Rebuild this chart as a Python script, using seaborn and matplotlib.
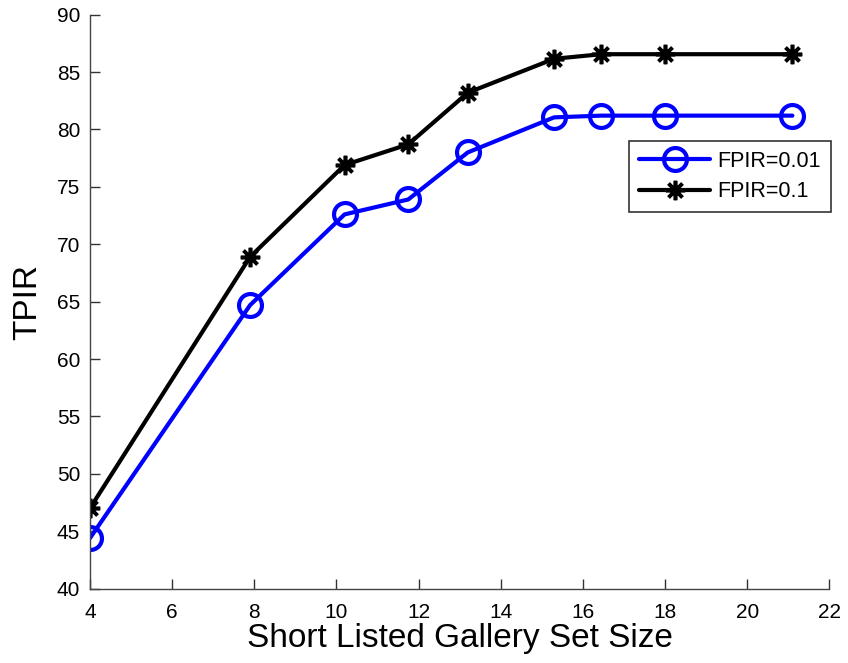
import matplotlib
matplotlib.use("Agg")
import matplotlib.pyplot as plt
import seaborn as sns
import pandas as pd

# Short-listed gallery sizes and TPIR (%) at two FPIR operating points
gallery_size = [4, 7.9, 10.2, 11.75, 13.2, 15.3, 16.45, 18, 21.1]
tpir_fpir_001 = [44.4, 64.7, 72.6, 73.9, 78.0, 81.05, 81.2, 81.2, 81.2]
tpir_fpir_01 = [47.0, 68.9, 76.9, 78.7, 83.2, 86.15, 86.55, 86.55, 86.55]
series_names = ["FPIR=0.01", "FPIR=0.1"]

x_ticks = [4, 6, 8, 10, 12, 14, 16, 18, 20, 22]
y_ticks = [40, 45, 50, 55, 60, 65, 70, 75, 80, 85, 90]

df = pd.concat([
    pd.DataFrame({"size": gallery_size, "tpir": tpir_fpir_001, "series": series_names[0]}),
    pd.DataFrame({"size": gallery_size, "tpir": tpir_fpir_01, "series": series_names[1]}),
])

sns.set_theme(style="ticks")
plt.rcParams["font.family"] = ["Liberation Sans", "DejaVu Sans"]
plt.rcParams["text.color"] = "black"
plt.rcParams["axes.labelcolor"] = "black"

fig = plt.figure(figsize=(8.48, 6.63), dpi=100)
ax = fig.add_axes([0.106, 0.112, 0.872, 0.866])

styles = {
    series_names[0]: dict(color="#0000ff", marker="o", markersize=16.5,
                          markerfacecolor="none", markeredgewidth=3),
    series_names[1]: dict(color="black", marker=(8, 2, 0), markersize=14,
                          markeredgewidth=2.6),
}
for name in series_names:
    sub = df[df["series"] == name]
    sns.lineplot(data=sub, x="size", y="tpir", ax=ax, label=name,
                 linewidth=3, markeredgecolor=styles[name]["color"],
                 **styles[name])

ax.set_xlim(4, 22)
ax.set_ylim(40, 90)
ax.set_xticks(x_ticks)
ax.set_yticks(y_ticks)
ax.tick_params(direction="in", length=7, width=1, colors="#333333",
               labelsize=15, labelcolor="black")
ax.tick_params(axis="x", pad=10)
ax.tick_params(axis="y", pad=7)
for side in ("top", "right"):
    ax.spines[side].set_visible(False)
for side in ("left", "bottom"):
    ax.spines[side].set_color("#444444")
    ax.spines[side].set_linewidth(1)

ax.set_xlabel("Short Listed Gallery Set Size", fontsize=24, labelpad=1, color="black")
ax.set_ylabel("TPIR", fontsize=24, labelpad=10, color="black")

leg = ax.legend(loc="upper right", bbox_to_anchor=(1.002, 0.78), fontsize=15.5,
                frameon=True, fancybox=False, edgecolor="black",
                handlelength=3.3, handletextpad=0.35, borderpad=0.45,
                labelspacing=0.45, borderaxespad=0)
leg.get_frame().set_linewidth(1.2)
for t in leg.get_texts():
    t.set_color("black")

fig.savefig("out.png", dpi=100)
